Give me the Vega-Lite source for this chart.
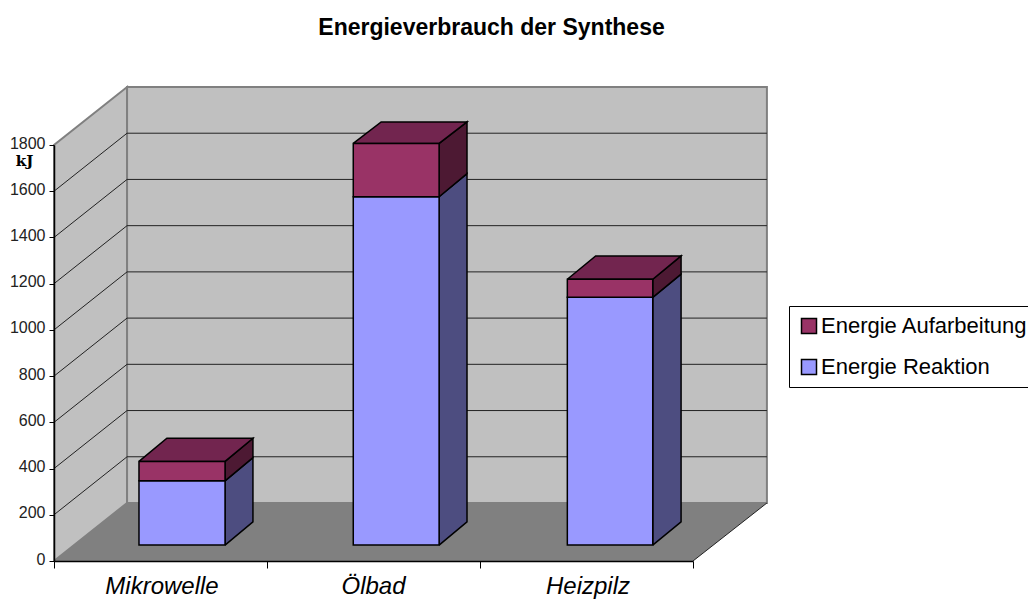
{
"$schema":"https://vega.github.io/schema/vega-lite/v6.json",
"width":639,"height":416,
"autosize":{"type":"none"},
"padding":{"left":54,"top":145,"right":335,"bottom":38},
"background":"white",
"title":{"text":"Energieverbrauch der Synthese","font":"Liberation Sans","fontSize":23,"fontWeight":"bold","color":"black","anchor":"middle","frame":"group","dx":118,"offset":43},
"config":{"view":{"stroke":null}},
"datasets":{
"room":[
{"poly":"Boden","face":"Boden","o":0,"x":0,"y":0},{"poly":"Boden","face":"Boden","o":1,"x":3,"y":0},{"poly":"Boden","face":"Boden","o":2,"x":3.347,"y":251},{"poly":"Boden","face":"Boden","o":3,"x":0.343,"y":251},{"poly":"Boden","face":"Boden","o":4,"x":0,"y":0},
{"poly":"Seitenwand","face":"Wand","o":0,"x":0,"y":0},{"poly":"Seitenwand","face":"Wand","o":1,"x":0.343,"y":251},{"poly":"Seitenwand","face":"Wand","o":2,"x":0.343,"y":2051},{"poly":"Seitenwand","face":"Wand","o":3,"x":0,"y":1800},{"poly":"Seitenwand","face":"Wand","o":4,"x":0,"y":0},
{"poly":"Rueckwand","face":"Wand","o":0,"x":0.343,"y":251},{"poly":"Rueckwand","face":"Wand","o":1,"x":3.347,"y":251},{"poly":"Rueckwand","face":"Wand","o":2,"x":3.347,"y":2051},{"poly":"Rueckwand","face":"Wand","o":3,"x":0.343,"y":2051},{"poly":"Rueckwand","face":"Wand","o":4,"x":0.343,"y":251}
],
"grid":[
{"v":0,"o":0,"x":3,"y":0},{"v":0,"o":1,"x":3.347,"y":251},
{"v":200,"o":0,"x":0,"y":200},{"v":200,"o":1,"x":0.343,"y":451},{"v":200,"o":2,"x":3.347,"y":451},
{"v":400,"o":0,"x":0,"y":400},{"v":400,"o":1,"x":0.343,"y":651},{"v":400,"o":2,"x":3.347,"y":651},
{"v":600,"o":0,"x":0,"y":600},{"v":600,"o":1,"x":0.343,"y":851},{"v":600,"o":2,"x":3.347,"y":851},
{"v":800,"o":0,"x":0,"y":800},{"v":800,"o":1,"x":0.343,"y":1051},{"v":800,"o":2,"x":3.347,"y":1051},
{"v":1000,"o":0,"x":0,"y":1000},{"v":1000,"o":1,"x":0.343,"y":1251},{"v":1000,"o":2,"x":3.347,"y":1251},
{"v":1200,"o":0,"x":0,"y":1200},{"v":1200,"o":1,"x":0.343,"y":1451},{"v":1200,"o":2,"x":3.347,"y":1451},
{"v":1400,"o":0,"x":0,"y":1400},{"v":1400,"o":1,"x":0.343,"y":1651},{"v":1400,"o":2,"x":3.347,"y":1651},
{"v":1600,"o":0,"x":0,"y":1600},{"v":1600,"o":1,"x":0.343,"y":1851},{"v":1600,"o":2,"x":3.347,"y":1851}
],
"sides":[
{"poly":"M-rs","face":"rs","o":0,"x":0.803,"y":69},{"poly":"M-rs","face":"rs","o":1,"x":0.934,"y":169},{"poly":"M-rs","face":"rs","o":2,"x":0.934,"y":447},{"poly":"M-rs","face":"rs","o":3,"x":0.803,"y":347},{"poly":"M-rs","face":"rs","o":4,"x":0.803,"y":69},
{"poly":"M-as","face":"as","o":0,"x":0.803,"y":347},{"poly":"M-as","face":"as","o":1,"x":0.934,"y":447},{"poly":"M-as","face":"as","o":2,"x":0.934,"y":531},{"poly":"M-as","face":"as","o":3,"x":0.803,"y":431},{"poly":"M-as","face":"as","o":4,"x":0.803,"y":347},
{"poly":"M-at","face":"at","o":0,"x":0.399,"y":431},{"poly":"M-at","face":"at","o":1,"x":0.803,"y":431},{"poly":"M-at","face":"at","o":2,"x":0.934,"y":531},{"poly":"M-at","face":"at","o":3,"x":0.53,"y":531},{"poly":"M-at","face":"at","o":4,"x":0.399,"y":431},
{"poly":"O-rs","face":"rs","o":0,"x":1.808,"y":69},{"poly":"O-rs","face":"rs","o":1,"x":1.939,"y":169},{"poly":"O-rs","face":"rs","o":2,"x":1.939,"y":1676},{"poly":"O-rs","face":"rs","o":3,"x":1.808,"y":1576},{"poly":"O-rs","face":"rs","o":4,"x":1.808,"y":69},
{"poly":"O-as","face":"as","o":0,"x":1.808,"y":1576},{"poly":"O-as","face":"as","o":1,"x":1.939,"y":1676},{"poly":"O-as","face":"as","o":2,"x":1.939,"y":1900},{"poly":"O-as","face":"as","o":3,"x":1.808,"y":1807},{"poly":"O-as","face":"as","o":4,"x":1.808,"y":1576},
{"poly":"O-at","face":"at","o":0,"x":1.405,"y":1807},{"poly":"O-at","face":"at","o":1,"x":1.808,"y":1807},{"poly":"O-at","face":"at","o":2,"x":1.939,"y":1900},{"poly":"O-at","face":"at","o":3,"x":1.536,"y":1900},{"poly":"O-at","face":"at","o":4,"x":1.405,"y":1807},
{"poly":"H-rs","face":"rs","o":0,"x":2.811,"y":69},{"poly":"H-rs","face":"rs","o":1,"x":2.944,"y":169},{"poly":"H-rs","face":"rs","o":2,"x":2.944,"y":1241},{"poly":"H-rs","face":"rs","o":3,"x":2.811,"y":1141},{"poly":"H-rs","face":"rs","o":4,"x":2.811,"y":69},
{"poly":"H-as","face":"as","o":0,"x":2.811,"y":1141},{"poly":"H-as","face":"as","o":1,"x":2.944,"y":1241},{"poly":"H-as","face":"as","o":2,"x":2.944,"y":1320},{"poly":"H-as","face":"as","o":3,"x":2.811,"y":1219},{"poly":"H-as","face":"as","o":4,"x":2.811,"y":1141},
{"poly":"H-at","face":"at","o":0,"x":2.41,"y":1219},{"poly":"H-at","face":"at","o":1,"x":2.811,"y":1219},{"poly":"H-at","face":"at","o":2,"x":2.944,"y":1320},{"poly":"H-at","face":"at","o":3,"x":2.543,"y":1320},{"poly":"H-at","face":"at","o":4,"x":2.41,"y":1219}
],
"bars":[
{"Kategorie":"Mikrowelle","Energie":"Energie Reaktion","x0":0.399,"x1":0.803,"y0":69,"y1":347},
{"Kategorie":"Mikrowelle","Energie":"Energie Aufarbeitung","x0":0.399,"x1":0.803,"y0":347,"y1":431},
{"Kategorie":"Ölbad","Energie":"Energie Reaktion","x0":1.405,"x1":1.808,"y0":69,"y1":1576},
{"Kategorie":"Ölbad","Energie":"Energie Aufarbeitung","x0":1.405,"x1":1.808,"y0":1576,"y1":1807},
{"Kategorie":"Heizpilz","Energie":"Energie Reaktion","x0":2.41,"x1":2.811,"y0":69,"y1":1141},
{"Kategorie":"Heizpilz","Energie":"Energie Aufarbeitung","x0":2.41,"x1":2.811,"y0":1141,"y1":1219}
],
"cats":[
{"Kategorie":"Mikrowelle","x":0.507,"y":-113},
{"Kategorie":"Ölbad","x":1.5,"y":-113},
{"Kategorie":"Heizpilz","x":2.507,"y":-113}
]
},
"layer":[
{"data":{"name":"room"},"transform":[{"filter":"datum.face==='Boden'"}],
 "mark":{"type":"line","strokeWidth":0,"strokeOpacity":0},
 "encoding":{
  "x":{"field":"x","type":"quantitative","scale":{"domain":[0,3],"nice":false,"zero":false},
    "axis":{"values":[0,1,2,3],"labels":false,"grid":false,"title":null,"tickSize":7,"tickColor":"black","domainColor":"black","domainWidth":1.5,"zindex":1}},
  "y":{"field":"y","type":"quantitative","scale":{"domain":[0,1800],"nice":false,"zero":false},
    "axis":{"values":[0,200,400,600,800,1000,1200,1400,1600,1800],"format":"d","grid":false,"title":"kJ","titleFont":"DejaVu Serif","titleFontWeight":"bold","titleFontSize":15,"titleColor":"black","titleAngle":0,"titleAlign":"center","titleBaseline":"middle","titleX":-30,"titleY":15,"tickSize":5,"tickColor":"black","domainColor":"black","domainWidth":1.5,"labelFont":"Liberation Sans","labelFontSize":16,"labelColor":"#222222","labelPadding":4,"labelOffset":-2,"zindex":1}},
  "order":{"field":"o"},"detail":{"field":"poly"},
  "fill":{"field":"face","type":"nominal","scale":{"domain":["Boden","Wand","rs","as","at"],"range":["#808080","#C0C0C0","#4D4D80","#4D1933","#72254F"]},"legend":null}}},
{"data":{"name":"room"},"transform":[{"filter":"datum.face==='Wand'"}],
 "mark":{"type":"line","stroke":"#808080","strokeWidth":2},
 "encoding":{
  "x":{"field":"x","type":"quantitative"},"y":{"field":"y","type":"quantitative"},
  "order":{"field":"o"},"detail":{"field":"poly"},
  "fill":{"field":"face","type":"nominal","legend":null}}},
{"data":{"name":"grid"},
 "mark":{"type":"line","stroke":"#222222","strokeWidth":1},
 "encoding":{
  "x":{"field":"x","type":"quantitative"},"y":{"field":"y","type":"quantitative"},
  "order":{"field":"o"},"detail":{"field":"v"}}},
{"data":{"name":"sides"},
 "mark":{"type":"line","stroke":"black","strokeWidth":1.5},
 "encoding":{
  "x":{"field":"x","type":"quantitative"},"y":{"field":"y","type":"quantitative"},
  "order":{"field":"o"},"detail":{"field":"poly"},
  "fill":{"field":"face","type":"nominal","legend":null}}},
{"data":{"name":"bars"},
 "mark":{"type":"rect","stroke":"black","strokeWidth":1.5},
 "encoding":{
  "x":{"field":"x0","type":"quantitative"},"x2":{"field":"x1"},
  "y":{"field":"y0","type":"quantitative"},"y2":{"field":"y1"},
  "color":{"field":"Energie","type":"nominal","scale":{"domain":["Energie Aufarbeitung","Energie Reaktion"],"range":["#993366","#9999FF"]},
   "legend":{"title":null,"orient":"none","legendX":735,"legendY":161,"fillColor":"white","strokeColor":"black","padding":9,"symbolType":"square","symbolSize":225,"symbolStrokeColor":"black","symbolStrokeWidth":1.5,"symbolOpacity":1,"labelFont":"Liberation Sans","labelFontSize":22,"labelColor":"black","labelOffset":1,"rowPadding":19,"labelLimit":400}}}},
{"data":{"name":"cats"},
 "mark":{"type":"text","font":"Liberation Sans","fontStyle":"italic","fontSize":24,"color":"black","align":"center","baseline":"middle"},
 "encoding":{
  "x":{"field":"x","type":"quantitative"},"y":{"field":"y","type":"quantitative"},
  "text":{"field":"Kategorie","type":"nominal"}}}
]
}
